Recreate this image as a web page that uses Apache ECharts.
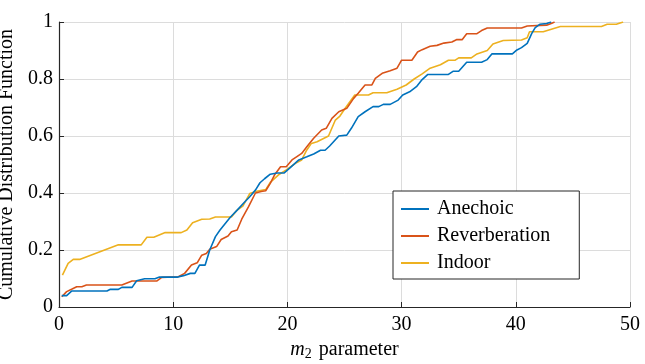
<!DOCTYPE html>
<html>
<head>
<meta charset="utf-8">
<script src="https://cdn.jsdelivr.net/npm/echarts@6/dist/echarts.min.js"></script>
<style>
  html, body { margin: 0; padding: 0; background: #fff; }
  #chart { width: 645px; height: 364px; }
</style>
</head>
<body>
<div id="chart"></div>
<script>
// values
const anechoicX = [0.24, 0.67, 1.1, 4.2, 4.5, 5.2, 5.5, 6.4, 6.8, 7.5, 8.4, 8.8, 10.4, 10.9, 11.5, 11.9, 12.3, 12.8, 13.2, 13.7, 14.1, 15.0, 15.6, 16.3, 16.7, 17.2, 17.6, 18.0, 18.5, 19.1, 19.7, 20.2, 21.0, 21.7, 22.3, 22.9, 23.3, 23.7, 24.5, 25.2, 25.6, 26.2, 26.8, 27.5, 28.0, 28.4, 29.0, 29.7, 30.1, 30.7, 31.3, 31.8, 32.3, 34.1, 34.5, 35.0, 35.7, 37.0, 37.5, 37.9, 39.7, 40.1, 40.5, 41.0, 41.4, 41.7, 42.1, 42.7, 43.1];
const anechoicY = [0.04, 0.04, 0.056, 0.056, 0.062, 0.062, 0.069, 0.069, 0.092, 0.099, 0.099, 0.105, 0.105, 0.11, 0.118, 0.118, 0.147, 0.147, 0.2, 0.247, 0.27, 0.315, 0.34, 0.37, 0.387, 0.41, 0.436, 0.45, 0.466, 0.47, 0.47, 0.487, 0.516, 0.527, 0.537, 0.55, 0.55, 0.565, 0.6, 0.603, 0.627, 0.668, 0.685, 0.703, 0.703, 0.711, 0.711, 0.726, 0.744, 0.755, 0.773, 0.798, 0.816, 0.816, 0.827, 0.827, 0.859, 0.859, 0.868, 0.888, 0.888, 0.902, 0.91, 0.925, 0.96, 0.98, 0.992, 0.995, 1.0];

const reverbX = [0.24, 0.67, 1.1, 1.55, 2.0, 2.4, 5.5, 6.4, 8.55, 9.0, 10.45, 11.0, 11.6, 12.1, 12.5, 12.9, 13.2, 13.8, 14.2, 14.8, 15.1, 15.6, 16.0, 16.6, 17.2, 17.7, 18.1, 18.5, 18.9, 19.4, 19.9, 20.4, 20.8, 21.25, 21.7, 22.3, 23.0, 23.4, 23.9, 24.5, 25.2, 25.8, 26.2, 26.8, 27.4, 27.7, 28.3, 29.0, 29.6, 30.0, 30.9, 31.4, 31.8, 32.5, 33.1, 33.7, 34.4, 34.8, 35.3, 35.7, 36.6, 37.0, 37.5, 40.5, 41.0, 42.7, 43.1, 43.4];
const reverbY = [0.036, 0.054, 0.062, 0.071, 0.071, 0.077, 0.077, 0.091, 0.091, 0.104, 0.106, 0.118, 0.147, 0.155, 0.182, 0.188, 0.203, 0.212, 0.237, 0.249, 0.264, 0.27, 0.308, 0.352, 0.4, 0.405, 0.408, 0.434, 0.465, 0.492, 0.492, 0.516, 0.527, 0.539, 0.562, 0.592, 0.621, 0.627, 0.662, 0.685, 0.697, 0.732, 0.75, 0.779, 0.779, 0.802, 0.82, 0.829, 0.838, 0.866, 0.866, 0.895, 0.903, 0.915, 0.918, 0.926, 0.93, 0.938, 0.938, 0.959, 0.959, 0.97, 0.979, 0.979, 0.986, 0.989, 0.995, 1.0];

const indoorX = [0.3, 0.8, 1.25, 1.8, 5.2, 7.2, 7.7, 8.3, 9.3, 10.7, 11.2, 11.7, 12.5, 13.2, 13.7, 15.1, 15.6, 16.1, 16.7, 17.3, 18.1, 18.5, 19.2, 19.9, 20.7, 21.25, 21.7, 22.1, 22.6, 23.6, 24.2, 24.6, 25.0, 25.9, 27.1, 27.5, 28.7, 29.6, 30.4, 31.1, 31.8, 32.5, 33.4, 34.1, 34.7, 35.0, 36.1, 36.6, 37.5, 38.0, 38.9, 40.5, 41.0, 41.2, 42.4, 43.9, 47.5, 48.0, 48.8, 49.4];
const indoorY = [0.112, 0.153, 0.167, 0.167, 0.218, 0.218, 0.245, 0.245, 0.261, 0.261, 0.27, 0.296, 0.308, 0.309, 0.316, 0.316, 0.34, 0.354, 0.398, 0.406, 0.412, 0.437, 0.463, 0.481, 0.504, 0.516, 0.551, 0.574, 0.58, 0.6, 0.656, 0.67, 0.694, 0.744, 0.744, 0.752, 0.752, 0.764, 0.779, 0.8, 0.818, 0.838, 0.85, 0.866, 0.866, 0.874, 0.874, 0.888, 0.9, 0.923, 0.935, 0.937, 0.945, 0.966, 0.966, 0.984, 0.984, 0.992, 0.992, 1.0];

const seriesNames = ['Anechoic', 'Reverberation', 'Indoor'];
const seriesColors = ['#0072BD', '#D95319', '#EDB120'];

const pairs = (xs, ys) => xs.map((x, i) => [x, ys[i]]);
const seriesData = [
  pairs(anechoicX, anechoicY),
  pairs(reverbX, reverbY),
  pairs(indoorX, indoorY)
];

const serif = '"Liberation Serif", "DejaVu Serif", serif';
const axisColor = '#262626';

const chart = echarts.init(document.getElementById('chart'));

const option = {
  animation: false,
  backgroundColor: '#fff',
  grid: { left: 59, right: 15, top: 22, bottom: 57, containLabel: false, outerBoundsMode: 'none' },
  legend: {
    orient: 'vertical',
    left: 393,
    top: 191,
    width: 186,
    padding: [8, 29, 6, 8],
    icon: 'rect',
    itemWidth: 28,
    itemHeight: 2,
    itemGap: 7,
    backgroundColor: '#fff',
    borderColor: '#262626',
    borderWidth: 1,
    data: seriesNames,
    textStyle: { fontFamily: serif, fontSize: 20, color: '#000', padding: [0, 0, 0, 3] }
  },
  xAxis: {
    type: 'value',
    min: 0,
    max: 50,
    interval: 10,
    name: '{i|m}{s|2} parameter',
    nameLocation: 'middle',
    nameGap: 32,
    nameTextStyle: {
      fontFamily: serif,
      fontSize: 20,
      color: '#000',
      rich: {
        i: { fontFamily: serif, fontStyle: 'italic', fontSize: 20, color: '#000' },
        s: { fontFamily: serif, fontSize: 14, color: '#000', padding: [8, 2, 0, 0] }
      }
    },
    axisLine: { show: true, lineStyle: { color: axisColor, width: 1.2 } },
    axisTick: { show: true, inside: true, length: 5, lineStyle: { color: axisColor } },
    axisLabel: { fontFamily: serif, fontSize: 20, color: '#000', margin: 8 },
    splitLine: { show: true, lineStyle: { color: '#dcdcdc', width: 1 } }
  },
  yAxis: {
    type: 'value',
    min: 0,
    max: 1,
    interval: 0.2,
    name: 'Cumulative Distribution Function',
    nameLocation: 'middle',
    nameGap: 40,
    nameTextStyle: { fontFamily: serif, fontSize: 20, color: '#000' },
    axisLine: { show: true, lineStyle: { color: axisColor, width: 1.2 } },
    axisTick: { show: true, inside: true, length: 5, lineStyle: { color: axisColor } },
    axisLabel: { fontFamily: serif, fontSize: 20, color: '#000', margin: 6 },
    splitLine: { show: true, lineStyle: { color: '#dcdcdc', width: 1 } }
  },
  series: seriesNames.map((name, i) => ({
    name: name,
    type: 'line',
    data: seriesData[i],
    symbol: 'none',
    lineStyle: { color: seriesColors[i], width: 1.6 },
    itemStyle: { color: seriesColors[i] },
    z: 3 - i
  }))
};

chart.setOption(option);
</script>
</body>
</html>
